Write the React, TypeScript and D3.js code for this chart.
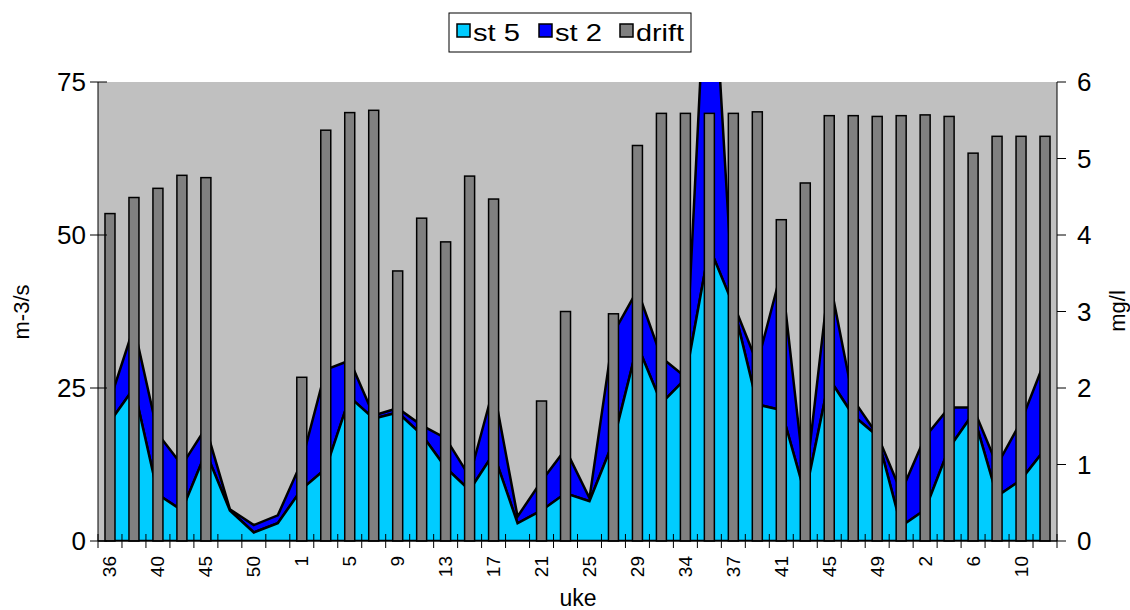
import React from "react";
import * as d3 from "d3";

const weeks = ["36","38","40","43","45","48","50","52","1","3","5","7","9","11","13","15","17","19","21","23","25","27","29","32","34","35","37","39","41","43","45","47","49","51","2","4","6","8","10","12"];
const st5 = [19.5,25,7.6,5,14.5,5.0,1.4,2.9,8.5,11.8,23.5,20,21,17.4,12,8.3,14.3,2.9,5,7.8,6.5,16.3,32,22.5,26.5,48,38.5,22.3,21.4,7.5,26.5,20.5,17.2,2.4,5.1,15.2,20.8,7.3,10,15];
const st2 = [3.5,10,9.9,7.4,4,0.2,1.2,1.3,4.5,16.2,6,0.5,0.7,1.5,4.8,2.2,10.7,1.1,4.8,7.2,0.5,17.7,9,7.5,0.3,57,0.3,6.7,22.6,1.5,16.5,2.6,0.2,5.6,11.9,6.6,1,5.1,9.5,14.5];
const drift: (number | null)[] = [4.28,4.49,4.61,4.78,4.75,null,null,null,2.14,5.37,5.60,5.63,3.53,4.22,3.91,4.77,4.47,null,1.83,3.0,null,2.97,5.17,5.59,5.59,5.59,5.59,5.61,4.20,4.68,5.56,5.56,5.55,5.56,5.57,5.55,5.07,5.29,5.29,5.29];
const leftTicks = [0,25,50,75];
const rightTicks = [0,1,2,3,4,5,6];
const seriesNames = ["st 5","st 2","drift"];
const seriesColors = ["#00CCFF","#0000FF","#808080"];

const L = 98, R = 1057, T = 82, B = 541;

export default function App() {
  const idx = weeks.map((_, i) => i);
  const x = d3.scaleBand<number>().domain(idx).range([L, R]).padding(0);
  const bw = x.bandwidth();
  const cx = (i: number) => (x(i) as number) + bw / 2;
  const yL = d3.scaleLinear().domain([0, 75]).range([B, T]);
  const yR = d3.scaleLinear().domain([0, 6]).range([B, T]);

  const tot = st5.map((v, i) => v + st2[i]);
  const area5 = d3.area<number>().x((_, i) => cx(i)).y0(() => yL(0)).y1((v) => yL(v));
  const area2 = d3.area<number>().x((_, i) => cx(i)).y0((_, i) => yL(st5[i])).y1((v) => yL(v));

  const font = "Liberation Sans, Arial, sans-serif";
  const barW = 10;
  const legendX = [457, 539, 620];
  const legendW = [47, 47, 48];

  return (
    <svg width={1130} height={610} style={{ position: "absolute", left: 0, top: 0 }} fontFamily={font}>
      <defs>
        <clipPath id="plotclip">
          <rect x={L} y={T} width={R - L} height={B - T} />
        </clipPath>
      </defs>
      <rect x={0} y={0} width={1130} height={610} fill="#fff" />
      <rect x={L} y={T} width={R - L} height={B - T} fill="#C0C0C0" />
      <g clipPath="url(#plotclip)">
        <path d={area2(tot) || ""} fill="#0000FF" stroke="#000" strokeWidth={2.5} strokeLinejoin="miter" />
        <path d={area5(st5) || ""} fill="#00CCFF" stroke="#000" strokeWidth={2.5} strokeLinejoin="miter" />
      </g>
      {drift.map((v, i) =>
        v == null ? null : (
          <rect key={i} x={cx(i) - barW / 2} y={yR(v)} width={barW} height={yR(0) - yR(v)} fill="#808080" stroke="#000" strokeWidth={1.5} />
        )
      )}
      <line x1={L} x2={L} y1={T} y2={B} stroke="#000" strokeWidth={1} />
      <line x1={R} x2={R} y1={T} y2={B} stroke="#000" strokeWidth={1} />
      <line x1={L} x2={R} y1={B} y2={B} stroke="#000" strokeWidth={1.5} />
      {leftTicks.map((t) => (
        <g key={"l" + t}>
          <line x1={L - 8} x2={L + 9} y1={yL(t)} y2={yL(t)} stroke="#000" strokeWidth={1} />
          <text x={86} y={yL(t)} textAnchor="end" dominantBaseline="central" fontSize={26}>{t}</text>
        </g>
      ))}
      {rightTicks.map((t) => (
        <g key={"r" + t}>
          <line x1={R} x2={R + 9} y1={yR(t)} y2={yR(t)} stroke="#000" strokeWidth={1} />
          <text x={1077} y={yR(t)} textAnchor="start" dominantBaseline="central" fontSize={26}>{t}</text>
        </g>
      ))}
      {idx.concat([weeks.length]).map((i) => {
        const xx = i < weeks.length ? (x(i) as number) : R;
        return <line key={"xt" + i} x1={xx} x2={xx} y1={B - 7} y2={B + 7} stroke="#000" strokeWidth={1} />;
      })}
      {weeks.map((w, i) =>
        i % 2 === 0 ? (
          <text key={"xl" + i} transform={`translate(${cx(i)},556) rotate(-90)`} textAnchor="end" dominantBaseline="central" fontSize={19}>{w}</text>
        ) : null
      )}
      <text transform="translate(21,312) rotate(-90)" textAnchor="middle" dominantBaseline="central" fontSize={22}>m-3/s</text>
      <text transform="translate(1117,311) rotate(-90)" textAnchor="middle" dominantBaseline="central" fontSize={22}>mg/l</text>
      <text x={578} y={606} textAnchor="middle" fontSize={23}>uke</text>
      <rect x={449} y={13} width={242} height={39} fill="#fff" stroke="#000" strokeWidth={1} />
      {seriesNames.map((n, i) => (
        <g key={n}>
          <rect x={legendX[i]} y={24} width={13} height={13} fill={seriesColors[i]} stroke="#000" strokeWidth={1.5} />
          <text x={legendX[i] + 16} y={41} fontSize={24} textLength={legendW[i]} lengthAdjust="spacingAndGlyphs">{n}</text>
        </g>
      ))}
    </svg>
  );
}
